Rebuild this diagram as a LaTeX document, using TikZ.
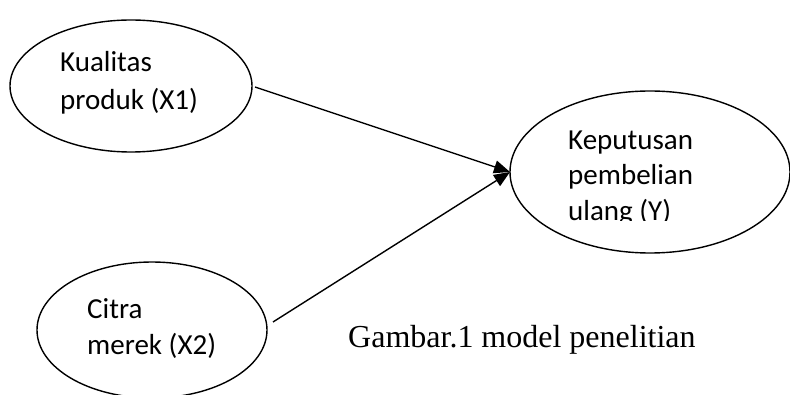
\documentclass[tikz,border=0pt]{standalone}
\usepackage{fontspec}
\setmainfont{Liberation Serif}
\newfontfamily\carlito{Carlito}
\usetikzlibrary{shapes.geometric,arrows.meta}
\begin{document}
\begin{tikzpicture}[x=1pt,y=1pt,
  oval/.style={draw,ellipse,line width=1.4pt,inner sep=0pt},
  lbl/.style={anchor=base west,inner sep=0pt,font=\carlito\fontsize{29}{34}\selectfont},
  link/.style={line width=1.4pt,-{Triangle[length=16pt,width=13pt]}}]
\useasboundingbox (0,0) rectangle (790,394);
\node[oval,minimum width=242pt,minimum height=132pt] (e1) at (131,308) {};
\node[oval,minimum width=280pt,minimum height=162pt] (e2) at (650,222) {};
\node[oval,minimum width=230pt,minimum height=136pt] (e3) at (152,64) {};
\node[lbl] (t1a) at (60,322.3) {Kualitas};
\node[lbl] (t1b) at (60,284) {produk (X1)};
\node[lbl] (t2a) at (568,244.7) {Keputusan};
\node[lbl] (t2b) at (568,209) {pembelian};
\begin{scope}
\clip (560,173.5) rectangle (730,200);
\node[lbl] (t2c) at (568,173.5) {ulang (Y)};
\end{scope}
\node[lbl] (t3a) at (87,75.7) {Citra};
\node[lbl] (t3b) at (87,39.7) {merek (X2)};
\node[anchor=base west,inner sep=0pt,font=\fontsize{32}{38}\selectfont] (cap) at (348,47) {Gambar.1 model penelitian};
\coordinate (s1) at (255,307);
\coordinate (s2) at (273,72);
\coordinate (tip) at (510,222);
\draw[link] (s1) -- (tip);
\draw[link] (s2) -- (tip);
\end{tikzpicture}
\end{document}
